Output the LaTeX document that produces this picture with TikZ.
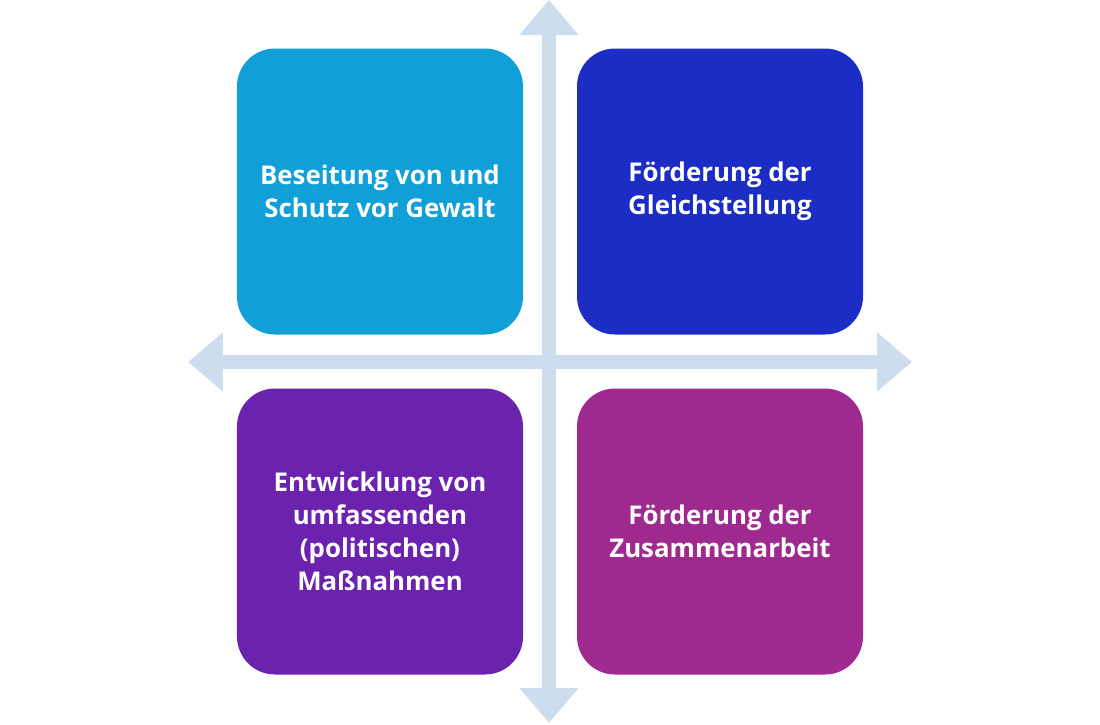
\documentclass[tikz,border=0pt]{standalone}
\usepackage{fontspec}
\setmainfont{Open Sans}
\usetikzlibrary{arrows.meta}

\definecolor{axisblue}{HTML}{CCDDED}
\definecolor{boxcyan}{HTML}{119FD8}
\definecolor{boxblue}{HTML}{1B2DC4}
\definecolor{boxviolet}{HTML}{6A22AF}
\definecolor{boxmagenta}{HTML}{9E2A8F}

\begin{document}
\begin{tikzpicture}[>={Triangle[length=0.7cm,width=1.14cm]},
		field/.style={rounded corners=0.76cm,minimum width=5.72cm,minimum height=5.72cm,
			align=center,text=white,font=\fontsize{14.7}{18.8}\selectfont\bfseries,inner sep=0pt},
		axis/.style={line width=0.29cm,draw=axisblue,fill=axisblue}]

			\useasboundingbox (-10.98,-7.24) rectangle (11.02,7.24);

			% Achsen
			\coordinate (top) at (0,7.24);
			\coordinate (bottom) at (0,-7.22);
			\coordinate (left) at (-7.22,0);
			\coordinate (right) at (7.26,0);

			\draw [<->,axis] (bottom) -- (top);
			\draw [<->,axis] (left) -- (right);

			% Felder
			\node [field,fill=boxcyan] (gewalt) at (-3.38,3.41) {Beseitung von und\\Schutz vor Gewalt};
			\node [field,fill=boxblue] (gleich) at (3.42,3.41) {Förderung der\\Gleichstellung};
			\node [field,fill=boxviolet] (massn) at (-3.38,-3.39) {Entwicklung von\\umfassenden\\(politischen)\\Maßnahmen};
			\node [field,fill=boxmagenta] (zusammen) at (3.42,-3.39) {Förderung der\\Zusammenarbeit};

		\end{tikzpicture}
\end{document}
